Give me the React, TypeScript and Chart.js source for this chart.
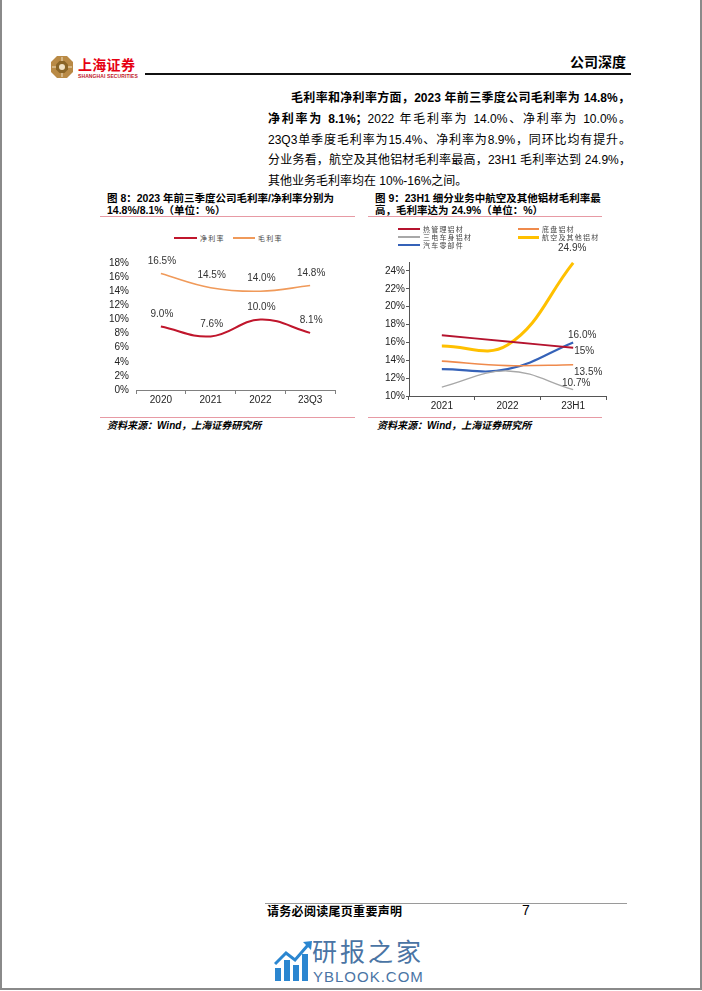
import React, { useEffect, useRef } from 'react';
import { Chart, registerables } from 'chart.js';

Chart.register(...registerables);

// ---------- data ----------
const marginYears = ['2020', '2021', '2022', '23Q3'];
const netMargin = [9.0, 7.6, 10.0, 8.1];
const grossMargin = [16.5, 14.5, 14.0, 14.8];
const marginTicks = [0, 2, 4, 6, 8, 10, 12, 14, 16, 18];

const segmentYears = ['2021', '2022', '23H1'];
const thermalMgmt = [16.8, 16.1, 15.4];
const chassisAl = [13.9, 13.4, 13.5];
const bodyAl = [11.0, 12.8, 10.7];
const aeroAl = [15.6, 15.7, 24.9];
const autoParts = [13.0, 13.0, 16.0];
const thermalLabels = ['', '', '15%'];
const chassisLabels = ['', '', '13.5%'];
const bodyLabels = ['', '', '10.7%'];
const aeroLabels = ['', '', '24.9%'];
const partsLabels = ['', '', '16.0%'];
const segmentTicks = [10, 12, 14, 16, 18, 20, 22, 24];

// ---------- styles ----------
const SANS = '"Liberation Sans", Arial, "Noto Sans CJK SC", sans-serif';
const CJK = '"Noto Sans CJK SC", "Liberation Sans", sans-serif';
const PINK = '#e79aa4';

const C_NET = '#c0162c';
const C_GROSS = '#f09a5a';
const C_THERMAL = '#b5132e';
const C_CHASSIS = '#ef8a4c';
const C_BODY = '#a8a8a8';
const C_AERO = '#ffc000';
const C_PARTS = '#3562b8';

const pointLabelPlugin = {
  id: 'pointLabels',
  afterDatasetsDraw(chart: any) {
    const ctx = chart.ctx;
    chart.data.datasets.forEach((ds: any, i: number) => {
      const texts: string[] | undefined = ds.pointLabels;
      const offs: number[][] | undefined = ds.labelOffsets;
      if (!texts || !offs) return;
      const meta = chart.getDatasetMeta(i);
      meta.data.forEach((pt: any, j: number) => {
        const t = texts[j];
        if (!t) return;
        const [dx, dy] = offs[j];
        ctx.save();
        ctx.font = '10px ' + SANS;
        ctx.fillStyle = '#333';
        ctx.textAlign = 'center';
        ctx.textBaseline = 'middle';
        ctx.fillText(t, pt.x + dx, pt.y + dy);
        ctx.restore();
      });
    });
  },
};

function ChartCanvas({ width, height, makeConfig, style }: any) {
  const ref = useRef<HTMLCanvasElement | null>(null);
  useEffect(() => {
    if (!ref.current) return;
    const chart = new Chart(ref.current, makeConfig());
    return () => chart.destroy();
  }, []);
  return (
    <canvas
      ref={ref}
      width={width}
      height={height}
      style={{ position: 'absolute', width, height, ...style }}
    />
  );
}

const tickFont = { family: SANS, size: 10 };

function marginConfig(): any {
  return {
    type: 'line',
    data: {
      labels: marginYears,
      datasets: [
        {
          label: '净利率',
          data: netMargin,
          borderColor: C_NET,
          borderWidth: 2,
          tension: 0.4,
          pointRadius: 0,
          fill: false,
          pointLabels: netMargin.map((v) => v.toFixed(1) + '%'),
          labelOffsets: netMargin.map(() => [1, -12.5]),
        },
        {
          label: '毛利率',
          data: grossMargin,
          borderColor: C_GROSS,
          borderWidth: 1.6,
          tension: 0.4,
          pointRadius: 0,
          fill: false,
          pointLabels: grossMargin.map((v) => v.toFixed(1) + '%'),
          labelOffsets: grossMargin.map(() => [1, -12.5]),
        },
      ],
    },
    options: {
      responsive: false,
      animation: false,
      devicePixelRatio: 1,
      layout: { padding: { left: 0, right: 15, top: 10, bottom: 0 } },
      plugins: { legend: { display: false }, tooltip: { enabled: false } },
      scales: {
        x: {
          type: 'category',
          offset: true,
          grid: { offset: true, drawOnChartArea: false, drawTicks: true, tickLength: 4, color: '#808080' },
          border: { display: true, color: '#808080', width: 1 },
          ticks: { font: tickFont, color: '#222', padding: 0, maxRotation: 0, autoSkip: false },
          afterFit: (s: any) => { s.height = 20; },
        },
        y: {
          min: marginTicks[0],
          max: marginTicks[marginTicks.length - 1],
          ticks: { stepSize: 2, autoSkip: false, font: tickFont, color: '#222', padding: 7, callback: (v: any) => v + '%' },
          afterBuildTicks: (s: any) => {
            s.ticks = marginTicks.map((v) => ({ value: v }));
          },
          grid: { display: false, drawTicks: false },
          border: { display: false },
          afterFit: (s: any) => { s.width = 36; },
        },
      },
    },
    plugins: [pointLabelPlugin],
  };
}

function segmentConfig(): any {
  const mk = (label: string, data: number[], color: string, w: number, labels: string[], off: number[]) => ({
    label,
    data,
    borderColor: color,
    borderWidth: w,
    tension: 0.4,
    pointRadius: 0,
    fill: false,
    pointLabels: labels,
    labelOffsets: labels.map(() => off),
  });
  return {
    type: 'line',
    data: {
      labels: segmentYears,
      datasets: [
        mk('三电车身铝材', bodyAl, C_BODY, 1.3, bodyLabels, [3, -6]),
        mk('底盘铝材', chassisAl, C_CHASSIS, 1.6, chassisLabels, [15, 8]),
        mk('热管理铝材', thermalMgmt, C_THERMAL, 1.8, thermalLabels, [11, 3]),
        mk('汽车零部件', autoParts, C_PARTS, 2.2, partsLabels, [9, -7]),
        mk('航空及其他铝材', aeroAl, C_AERO, 3, aeroLabels, [-1, -15]),
      ],
    },
    options: {
      responsive: false,
      animation: false,
      devicePixelRatio: 1,
      layout: { padding: { left: 0, right: 4, top: 22, bottom: 0 } },
      plugins: { legend: { display: false }, tooltip: { enabled: false } },
      scales: {
        x: {
          type: 'category',
          offset: true,
          grid: { offset: true, drawOnChartArea: false, drawTicks: true, tickLength: 4, color: '#555' },
          border: { display: true, color: '#555', width: 1 },
          ticks: { font: tickFont, color: '#222', padding: 0, maxRotation: 0, autoSkip: false },
          afterFit: (s: any) => { s.height = 19; },
        },
        y: {
          min: segmentTicks[0],
          max: 25,
          ticks: { stepSize: 2, autoSkip: false, font: tickFont, color: '#222', padding: 1, callback: (v: any) => v + '%' },
          afterBuildTicks: (s: any) => {
            s.ticks = segmentTicks.map((v) => ({ value: v }));
          },
          grid: { drawOnChartArea: false, drawTicks: true, tickLength: 3, color: '#555' },
          border: { display: true, color: '#555', width: 1 },
          afterFit: (s: any) => { s.width = 44; },
        },
      },
    },
    plugins: [pointLabelPlugin],
  };
}

const abs = (l: number, t: number, extra: any = {}) => ({ position: 'absolute' as const, left: l, top: t, ...extra });

function LegendItem({ x, y, lineW, color, thick, text }: any) {
  return (
    <>
      <div style={abs(x, y - thick / 2, { width: lineW, height: thick, background: color })} />
      <div
        style={abs(x + lineW + 3, y - 3.5, {
          height: 7,
          lineHeight: '7px',
          fontSize: 7,
          letterSpacing: '1.2px',
          fontFamily: SANS,
          color: '#444',
          whiteSpace: 'nowrap',
        })}
      >
        {text}
      </div>
    </>
  );
}

export default function App() {
  const body = { fontFamily: SANS, fontSize: 12, lineHeight: '16px', color: '#000' };
  const just = { textAlign: 'justify' as const, textAlignLast: 'justify' as const };
  const title = { fontFamily: SANS, fontSize: 10.5, fontWeight: 700, lineHeight: '12px', whiteSpace: 'nowrap' as const, color: '#000' };
  const source = { fontFamily: SANS, fontSize: 10, fontWeight: 700, fontStyle: 'italic', lineHeight: '12px', whiteSpace: 'nowrap' as const, color: '#000' };

  return (
    <div style={{ position: 'absolute', left: 0, top: 0, width: 702, height: 991, background: '#fff', overflow: 'hidden' }}>
      {/* page frame */}
      <div style={abs(0, -4, { width: 702, height: 994, boxSizing: 'border-box', borderLeft: '2px solid #8a8a8a', borderRight: '2px solid #8a8a8a', borderBottom: '2px solid #8a8a8a' })} />

      {/* header */}
      <svg style={abs(50, 55)} width={24} height={24} viewBox="0 0 24 24">
        <polygon points="7,1 17,1 23,7 23,17 17,23 7,23 1,17 1,7" fill="#b98a45" />
        <polygon points="9.5,6 14.5,6 18,9.5 18,14.5 14.5,18 9.5,18 6,14.5 6,9.5" fill="#8a6526" />
        <circle cx="12" cy="12" r="3" fill="#f1e2c4" />
        <g stroke="#f1e2c4" strokeWidth="1">
          <line x1="12" y1="2" x2="12" y2="6" />
          <line x1="12" y1="18" x2="12" y2="22" />
          <line x1="2" y1="12" x2="6" y2="12" />
          <line x1="18" y1="12" x2="22" y2="12" />
        </g>
      </svg>
      <div style={abs(78, 58, { fontFamily: SANS, fontWeight: 700, fontSize: 14, lineHeight: '14px', color: '#e60012', letterSpacing: '0.3px', whiteSpace: 'nowrap' })}>上海证券</div>
      <div style={abs(78, 74, { fontFamily: SANS, fontWeight: 700, fontSize: 5, lineHeight: '5px', color: '#c0202a', whiteSpace: 'nowrap', letterSpacing: '0.1px' })}>SHANGHAI SECURITIES</div>
      <div style={abs(145, 73, { width: 486, height: 2, background: '#111' })} />
      <div style={abs(570, 52, { fontFamily: CJK, fontWeight: 700, fontSize: 14, lineHeight: '18px', color: '#000', whiteSpace: 'nowrap' })}>公司深度</div>

      {/* body text */}
      <div style={abs(291, 90, { ...body, ...just, width: 339 })}>
        <b>毛利率和净利率方面，2023 年前三季度公司毛利率为 14.8%，</b>
      </div>
      <div style={abs(268, 111, { ...body, ...just, width: 363 })}>
        <b>净利率为 8.1%；</b>2022 年毛利率为 14.0%、净利率为 10.0%。
      </div>
      <div style={abs(268, 131.5, { ...body, ...just, width: 363 })}>
        23Q3单季度毛利率为15.4%、净利率为8.9%，同环比均有提升。
      </div>
      <div style={abs(268, 152, { ...body, ...just, width: 363 })}>
        分业务看，航空及其他铝材毛利率最高，23H1 毛利率达到 24.9%，
      </div>
      <div style={abs(268, 173, { ...body, whiteSpace: 'nowrap' })}>
        其他业务毛利率均在 10%-16%之间。
      </div>

      {/* chart 1 titles */}
      <div style={abs(107, 192, title)}>图 8：2023 年前三季度公司毛利率/净利率分别为</div>
      <div style={abs(107, 204, title)}>14.8%/8.1%（单位：%）</div>
      <div style={abs(100, 216, { width: 255, height: 1, background: PINK })} />

      {/* chart 2 titles */}
      <div style={abs(375, 192, title)}>图 9：23H1 细分业务中航空及其他铝材毛利率最</div>
      <div style={abs(375, 204, title)}>高，毛利率达为 24.9%（单位：%）</div>
      <div style={abs(368, 216, { width: 234, height: 1, background: PINK })} />

      {/* chart 1 */}
      <ChartCanvas width={250} height={160} makeConfig={marginConfig} style={{ left: 100, top: 250 }} />
      <LegendItem x={174} y={238} lineW={23} color={C_NET} thick={2} text="净利率" />
      <LegendItem x={233} y={238} lineW={22} color={C_GROSS} thick={1.5} text="毛利率" />

      {/* chart 2 */}
      <ChartCanvas width={245} height={175} makeConfig={segmentConfig} style={{ left: 365, top: 240 }} />
      <LegendItem x={398} y={229} lineW={22} color={C_THERMAL} thick={2} text="热管理铝材" />
      <LegendItem x={518} y={229} lineW={21} color={C_CHASSIS} thick={1.5} text="底盘铝材" />
      <LegendItem x={398} y={237} lineW={22} color={C_BODY} thick={1.2} text="三电车身铝材" />
      <LegendItem x={518} y={237} lineW={21} color={C_AERO} thick={3} text="航空及其他铝材" />
      <LegendItem x={398} y={245} lineW={22} color={C_PARTS} thick={2.2} text="汽车零部件" />

      {/* sources */}
      <div style={abs(100, 417, { width: 255, height: 1, background: PINK })} />
      <div style={abs(368, 417, { width: 234, height: 1, background: PINK })} />
      <div style={abs(107, 420, source)}>资料来源：Wind，上海证券研究所</div>
      <div style={abs(377, 420, source)}>资料来源：Wind，上海证券研究所</div>

      {/* footer */}
      <div style={abs(265, 903, { width: 362, height: 1, background: '#9a9a9a' })} />
      <div style={abs(267, 904, { fontFamily: CJK, fontWeight: 700, fontSize: 12, lineHeight: '14px', letterSpacing: '0.3px', whiteSpace: 'nowrap', color: '#000' })}>请务必阅读尾页重要声明</div>
      <div style={abs(522, 902, { fontFamily: SANS, fontSize: 14, lineHeight: '16px', color: '#000' })}>7</div>

      {/* watermark */}
      <svg style={abs(274, 940)} width={40} height={42} viewBox="0 0 40 42">
        <rect x="1" y="28" width="6" height="13" fill="#2b86d0" />
        <rect x="10" y="20" width="6" height="21" fill="#2b86d0" />
        <rect x="19" y="25" width="6" height="16" fill="#2b86d0" />
        <rect x="28" y="14" width="6" height="27" fill="#2b86d0" />
        <polyline points="1,24 12,13 21,20 34,5" fill="none" stroke="#2b86d0" strokeWidth="3" />
        <polygon points="29,2 38,1 37,10" fill="#2b86d0" />
      </svg>
      <div style={abs(312, 940, { fontFamily: SANS, fontSize: 25, lineHeight: '25px', letterSpacing: '3px', color: '#4a74a4', whiteSpace: 'nowrap' })}>研报之家</div>
      <div style={abs(313, 968.5, { fontFamily: SANS, fontSize: 15, lineHeight: '15px', color: '#4a74a4', whiteSpace: 'nowrap', letterSpacing: '1px' })}>YBLOOK.COM</div>
    </div>
  );
}
